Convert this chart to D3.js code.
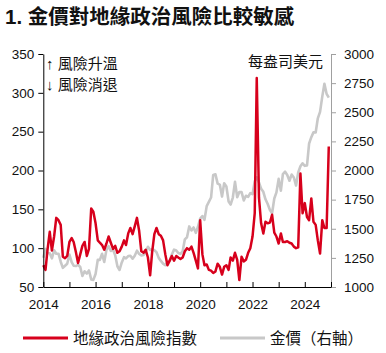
<!DOCTYPE html>
<html><head><meta charset="utf-8">
<script src="https://cdn.jsdelivr.net/npm/d3@7"></script>
<style>body{margin:0;background:#fff}svg{display:block}</style>
</head><body><svg id="c" width="386" height="353"></svg>
<script>
const title = "1. 金價對地緣政治風險比較敏感";
const seriesNames = ["地緣政治風險指數", "金價（右軸）"];
const notes = ["↑ 風險升溫", "↓ 風險消退"];
const unitLabel = "每盎司美元";
const startMonth = "2014-01";
const yearTicks = [2014, 2016, 2018, 2020, 2022, 2024];
const leftTicks = [50, 100, 150, 200, 250, 300, 350];
const rightTicks = [1000, 1250, 1500, 1750, 2000, 2250, 2500, 2750, 3000];
// monthly geopolitical risk index, Jan 2014 - Dec 2024
const gpr = [
 78,72,98,121,97,115,139,136,130,89,87,90,
 108,113,108,95,81,92,103,108,90,99,151,147,
 132,110,107,104,98,106,115,107,99,103,94,96,
 102,110,104,119,126,118,128,139,122,96,94,98,
 88,65,95,118,126,118,116,110,92,78,84,90,
 84,90,88,86,88,96,100,98,102,94,84,74,
 136,92,78,79,72,71,68,70,80,76,66,76,
 78,72,88,84,94,85,59,89,83,85,94,100,
 115,145,319,165,132,119,134,132,133,143,120,115,
 106,119,108,108,109,107,106,102,100,101,196,145,
 158,140,136,164,134,130,110,93,136,126,126,231
];
// monthly gold price (USD/oz), Jan 2014 - Dec 2024
const gold = [
 1251,1327,1292,1289,1246,1315,1285,1286,1217,1164,1182,1199,
 1279,1214,1183,1180,1191,1172,1095,1135,1115,1142,1065,1061,
 1112,1234,1233,1285,1215,1320,1350,1309,1322,1273,1178,1146,
 1211,1256,1245,1266,1268,1243,1269,1312,1283,1271,1275,1303,
 1345,1318,1325,1316,1299,1250,1224,1201,1187,1215,1222,1279,
 1321,1313,1292,1284,1305,1409,1427,1520,1485,1511,1465,1517,
 1587,1609,1577,1694,1730,1768,1962,1968,1887,1879,1776,1891,
 1863,1734,1708,1768,1903,1770,1815,1814,1743,1783,1774,1806,
 1797,1909,1942,1897,1843,1817,1753,1712,1661,1633,1760,1812,
 1928,1827,1969,1990,1962,1912,1965,1940,1871,1983,2036,2062,
 2040,2044,2230,2286,2327,2326,2448,2503,2634,2744,2657,2625
];

const parse = d3.timeParse("%Y-%m");
const t0 = parse(startMonth);
const dates = gpr.map((_, i) => d3.timeMonth.offset(t0, i));

const svg = d3.select("#c");
svg.append("rect").attr("width",386).attr("height",353).attr("fill","#fff");
const L = 43.3, R = 331, T = 54, B = 287;
const x = d3.scaleTime().domain([new Date(2014,0,1), new Date(2025,0,1)]).range([L, R]);
const yL = d3.scaleLinear().domain([50, 350]).range([B, T]);
const yR = d3.scaleLinear().domain([1000, 3000]).range([B, T]);
const numFont = "'Liberation Sans', Arial, sans-serif";
const cjkFont = "'Liberation Sans', 'Noto Sans CJK TC', sans-serif";

// title
svg.append("text").attr("x",5).attr("y",24).attr("font-family",cjkFont)
  .attr("font-weight","bold").attr("font-size",20.5).attr("fill","#111").text(title);

// lines
const lineG = d3.line().x((d,i)=>x(dates[i])).y(d=>yR(d));
const lineR = d3.line().x((d,i)=>x(dates[i])).y(d=>yL(d));
svg.append("path").datum(gold).attr("d",lineG).attr("fill","none")
  .attr("stroke","#c8c8c8").attr("stroke-width",2.6).attr("stroke-linejoin","round");
svg.append("path").datum(gpr).attr("d",lineR).attr("fill","none")
  .attr("stroke","#d7001c").attr("stroke-width",2.5).attr("stroke-linejoin","round");

// left axis
const gl = svg.append("g").attr("transform",`translate(${L},0)`)
  .call(d3.axisLeft(yL).tickValues(leftTicks).tickSize(5).tickSizeOuter(0).tickFormat(d3.format("d")));
gl.select(".domain").attr("stroke","#000");
gl.selectAll("text").attr("font-family",numFont).attr("font-size",13.5).attr("fill","#111").attr("x",-9);
// right axis
const gr = svg.append("g").attr("transform",`translate(${R},0)`)
  .call(d3.axisRight(yR).tickValues(rightTicks).tickSize(5).tickSizeOuter(0).tickFormat(d3.format("d")));
gr.selectAll(".domain,line").attr("stroke","#a0a0a0");
gr.selectAll("text").attr("font-family",numFont).attr("font-size",13.5).attr("fill","#111").attr("x",13);
// bottom axis
const years = d3.range(2014, 2026).map(yv => new Date(yv,0,1));
const gb = svg.append("g").attr("transform",`translate(0,${B})`)
  .call(d3.axisBottom(x).tickValues(years).tickSize(-5).tickSizeOuter(0)
    .tickFormat(d => yearTicks.includes(d.getFullYear()) ? d.getFullYear() : ""));
gb.select(".domain").attr("stroke","#000");
gb.selectAll("text").attr("font-family",numFont).attr("font-size",13.5).attr("fill","#111").attr("y",12);

// annotations
svg.append("text").attr("x",46).attr("y",69).attr("font-family",cjkFont).attr("font-size",15).attr("fill","#111").text(notes[0]);
svg.append("text").attr("x",46).attr("y",90).attr("font-family",cjkFont).attr("font-size",15).attr("fill","#111").text(notes[1]);
svg.append("text").attr("x",323).attr("y",67).attr("text-anchor","end").attr("font-family",cjkFont).attr("font-size",15).attr("fill","#111").text(unitLabel);

// legend
const lg = svg.append("g");
lg.append("line").attr("x1",23).attr("x2",68).attr("y1",338).attr("y2",338).attr("stroke","#d7001c").attr("stroke-width",3);
lg.append("text").attr("x",73).attr("y",344).attr("font-family",cjkFont).attr("font-size",15.5).attr("fill","#111").text(seriesNames[0]);
lg.append("line").attr("x1",220).attr("x2",265).attr("y1",338).attr("y2",338).attr("stroke","#c8c8c8").attr("stroke-width",3);
lg.append("text").attr("x",270).attr("y",344).attr("font-family",cjkFont).attr("font-size",15.5).attr("fill","#111").text(seriesNames[1]);
</script></body></html>
